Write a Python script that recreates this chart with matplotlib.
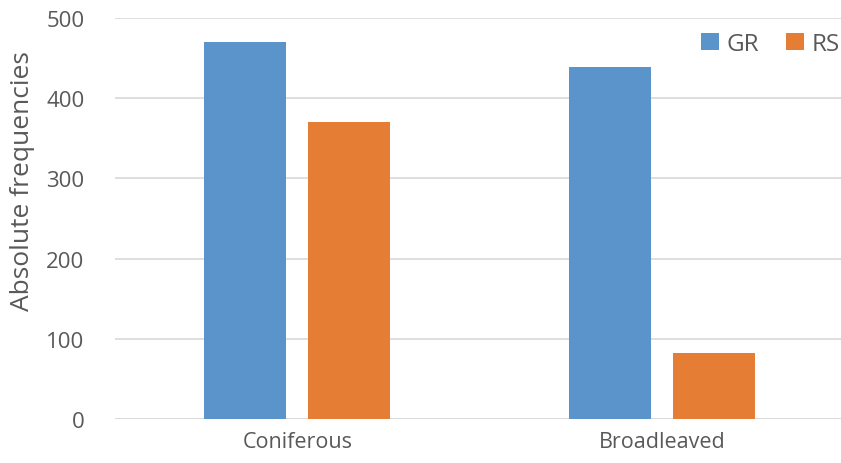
import numpy as np
import matplotlib.pyplot as plt

plt.rcParams['font.family'] = ['Open Sans', 'DejaVu Sans']

categories = ['Coniferous', 'Broadleaved']
gr = [470, 439]
rs = [370, 82]

text_color = '#595959'
x = np.arange(len(categories))
width = 0.225

fig = plt.figure(figsize=(8.41, 4.64), dpi=100)
ax = fig.add_axes([115 / 841, 44 / 464, 729 / 841, 401 / 464])

ax.bar(x - 0.142, gr, width, color='#5b94cb', label='GR', zorder=3)
ax.bar(x + 0.142, rs, width, color='#e67d35', label='RS', zorder=3)

ax.set_xlim(-0.5, 1.5)
ax.set_ylim(0, 500)
ax.set_yticks(range(0, 501, 100))
ax.set_xticks(x)
ax.set_xticklabels(categories, fontsize=15.5, color=text_color)
ax.tick_params(axis='y', labelsize=16, colors=text_color, length=0, pad=22)
ax.tick_params(axis='x', length=0, pad=9)
ax.yaxis.grid(True, color='#d9d9d9', linewidth=1.2, zorder=0)
for s in ax.spines.values():
    s.set_visible(False)
ax.axhline(0, color='#d9d9d9', linewidth=1.2, zorder=1)

ax.set_ylabel('Absolute frequencies', fontsize=19, color=text_color)
ax.yaxis.set_label_coords(-0.11, 0.595)

leg = ax.legend(loc='upper left', bbox_to_anchor=(0.7875, 0.995), ncol=2, frameon=False,
                borderpad=0, fontsize=17.5, handlelength=0.72, handleheight=0.72,
                handletextpad=0.3, columnspacing=1.15)
for t in leg.get_texts():
    t.set_color(text_color)

fig.savefig('out.png', dpi=100)
